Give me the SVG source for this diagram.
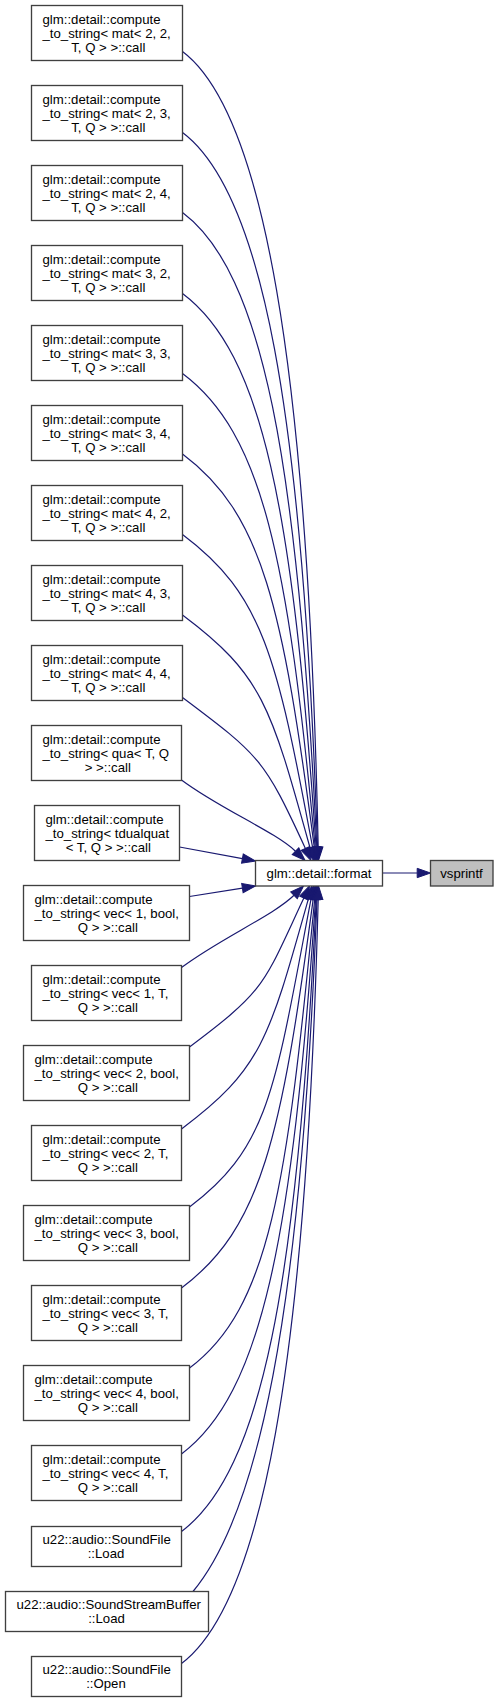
<svg xmlns="http://www.w3.org/2000/svg" width="499" height="1703" viewBox="0 0 499 1703">
<style>
.node rect{fill:#fff;stroke:#404040;stroke-width:1.33}
.node.cur rect{fill:#bfbfbf}
.node text{font-family:"Liberation Sans",Arial,sans-serif;font-size:13.2px;fill:#000}
.l{text-anchor:start}
.c{text-anchor:middle}
.edge path{fill:none;stroke:#191970;stroke-width:1.2;marker-end:url(#ah)}
</style>
<defs>
<marker id="ah" markerUnits="userSpaceOnUse" markerWidth="15" markerHeight="11" refX="0" refY="4.67" orient="auto" overflow="visible">
<path d="M0,0 L13.3,4.67 L0,9.34 Z" fill="#191970" stroke="#191970" stroke-width="1"/>
</marker>
</defs>
<rect width="499" height="1703" fill="#fff"/>
<g id="edges" class="edge">
<path d="M182.5,51.5 C262.5,111.5 308,361.9 318.2,847.2"/>
<path d="M182.5,132.5 C262.5,192.5 302.7,410.7 317.55,847.2"/>
<path d="M182.5,212.5 C262.5,272.5 297.8,458.9 316.85,847.2"/>
<path d="M182.5,293.5 C262.5,353.5 292.7,507.8 316.1,847.2"/>
<path d="M182.5,373.5 C262.5,433.5 287.6,556.4 315.2,847.3"/>
<path d="M182.5,454 C262.5,514 282.6,605.5 314.3,847.3"/>
<path d="M182.5,534.5 C262.5,594.5 276.8,655.1 312.6,847.4"/>
<path d="M182.5,615 C262.5,675 270.7,705.7 310,847.7"/>
<path d="M182.5,697.5 C260.9,756.3 264.4,759.6 305.4,848.4"/>
<path d="M181.5,780 C220.1,809 275.4,831.7 295.5,851.2"/>
<path d="M179.5,847 L242.4,858.6"/>
<path d="M189.5,896.5 L242.4,888.1"/>
<path d="M181.5,967.5 C220.6,938.2 273.7,915.3 294,895.3"/>
<path d="M189.5,1047 C266.8,989 262.8,985.5 303.85,898"/>
<path d="M181.5,1129 C261.5,1069 269.1,1039.2 308.4,898.8"/>
<path d="M189.5,1207 C269.5,1147 275,1088.3 311,899.1"/>
<path d="M181.5,1288 C261.5,1228 281.2,1138.3 313.2,899.2"/>
<path d="M189.5,1368 C269.5,1308 286.9,1187.1 314.7,899.2"/>
<path d="M181.5,1454 C261.5,1394 292.3,1239.3 315.6,899.3"/>
<path d="M181.5,1531.5 C261.5,1471.5 297.2,1286.1 316.3,899.3"/>
<path d="M193,1591.5 C257,1514.5 301.1,1322.3 317,899.3"/>
<path d="M181.5,1663.5 C261.5,1603.5 306.2,1365.7 318.2,899.3"/>
<path d="M382.5,873 L417.2,873"/>
</g>
<g id="n0" class="node"><rect x="31.5" y="5.5" width="151" height="55"/><text class="l" x="42.5" y="24.1">glm::detail::compute</text><text class="l" x="42.5" y="37.8">_to_string&lt; mat&lt; 2, 2,</text><text class="c" x="108.3" y="51.5">T, Q &gt; &gt;::call</text></g>
<g id="n1" class="node"><rect x="31.5" y="85.5" width="151" height="55"/><text class="l" x="42.5" y="104.1">glm::detail::compute</text><text class="l" x="42.5" y="117.8">_to_string&lt; mat&lt; 2, 3,</text><text class="c" x="108.3" y="131.5">T, Q &gt; &gt;::call</text></g>
<g id="n2" class="node"><rect x="31.5" y="165.5" width="151" height="55"/><text class="l" x="42.5" y="184.1">glm::detail::compute</text><text class="l" x="42.5" y="197.8">_to_string&lt; mat&lt; 2, 4,</text><text class="c" x="108.3" y="211.5">T, Q &gt; &gt;::call</text></g>
<g id="n3" class="node"><rect x="31.5" y="245.5" width="151" height="55"/><text class="l" x="42.5" y="264.1">glm::detail::compute</text><text class="l" x="42.5" y="277.8">_to_string&lt; mat&lt; 3, 2,</text><text class="c" x="108.3" y="291.5">T, Q &gt; &gt;::call</text></g>
<g id="n4" class="node"><rect x="31.5" y="325.5" width="151" height="55"/><text class="l" x="42.5" y="344.1">glm::detail::compute</text><text class="l" x="42.5" y="357.8">_to_string&lt; mat&lt; 3, 3,</text><text class="c" x="108.3" y="371.5">T, Q &gt; &gt;::call</text></g>
<g id="n5" class="node"><rect x="31.5" y="405.5" width="151" height="55"/><text class="l" x="42.5" y="424.1">glm::detail::compute</text><text class="l" x="42.5" y="437.8">_to_string&lt; mat&lt; 3, 4,</text><text class="c" x="108.3" y="451.5">T, Q &gt; &gt;::call</text></g>
<g id="n6" class="node"><rect x="31.5" y="485.5" width="151" height="55"/><text class="l" x="42.5" y="504.1">glm::detail::compute</text><text class="l" x="42.5" y="517.8">_to_string&lt; mat&lt; 4, 2,</text><text class="c" x="108.3" y="531.5">T, Q &gt; &gt;::call</text></g>
<g id="n7" class="node"><rect x="31.5" y="565.5" width="151" height="55"/><text class="l" x="42.5" y="584.1">glm::detail::compute</text><text class="l" x="42.5" y="597.8">_to_string&lt; mat&lt; 4, 3,</text><text class="c" x="108.3" y="611.5">T, Q &gt; &gt;::call</text></g>
<g id="n8" class="node"><rect x="31.5" y="645.5" width="151" height="55"/><text class="l" x="42.5" y="664.1">glm::detail::compute</text><text class="l" x="42.5" y="677.8">_to_string&lt; mat&lt; 4, 4,</text><text class="c" x="108.3" y="691.5">T, Q &gt; &gt;::call</text></g>
<g id="n9" class="node"><rect x="31.5" y="725.5" width="150" height="55"/><text class="l" x="42.5" y="744.1">glm::detail::compute</text><text class="l" x="42.5" y="757.8">_to_string&lt; qua&lt; T, Q</text><text class="c" x="107.8" y="771.5">&gt; &gt;::call</text></g>
<g id="n10" class="node"><rect x="34.5" y="805.5" width="145" height="55"/><text class="l" x="45.5" y="824.1">glm::detail::compute</text><text class="l" x="45.5" y="837.8">_to_string&lt; tdualquat</text><text class="c" x="108.3" y="851.5">&lt; T, Q &gt; &gt;::call</text></g>
<g id="n11" class="node"><rect x="23.5" y="885.5" width="166" height="55"/><text class="l" x="34.5" y="904.1">glm::detail::compute</text><text class="l" x="34.5" y="917.8">_to_string&lt; vec&lt; 1, bool,</text><text class="c" x="107.8" y="931.5">Q &gt; &gt;::call</text></g>
<g id="n12" class="node"><rect x="31.5" y="965.5" width="150" height="55"/><text class="l" x="42.5" y="984.1">glm::detail::compute</text><text class="l" x="42.5" y="997.8">_to_string&lt; vec&lt; 1, T,</text><text class="c" x="107.8" y="1011.5">Q &gt; &gt;::call</text></g>
<g id="n13" class="node"><rect x="23.5" y="1045.5" width="166" height="55"/><text class="l" x="34.5" y="1064.1">glm::detail::compute</text><text class="l" x="34.5" y="1077.8">_to_string&lt; vec&lt; 2, bool,</text><text class="c" x="107.8" y="1091.5">Q &gt; &gt;::call</text></g>
<g id="n14" class="node"><rect x="31.5" y="1125.5" width="150" height="55"/><text class="l" x="42.5" y="1144.1">glm::detail::compute</text><text class="l" x="42.5" y="1157.8">_to_string&lt; vec&lt; 2, T,</text><text class="c" x="107.8" y="1171.5">Q &gt; &gt;::call</text></g>
<g id="n15" class="node"><rect x="23.5" y="1205.5" width="166" height="55"/><text class="l" x="34.5" y="1224.1">glm::detail::compute</text><text class="l" x="34.5" y="1237.8">_to_string&lt; vec&lt; 3, bool,</text><text class="c" x="107.8" y="1251.5">Q &gt; &gt;::call</text></g>
<g id="n16" class="node"><rect x="31.5" y="1285.5" width="150" height="55"/><text class="l" x="42.5" y="1304.1">glm::detail::compute</text><text class="l" x="42.5" y="1317.8">_to_string&lt; vec&lt; 3, T,</text><text class="c" x="107.8" y="1331.5">Q &gt; &gt;::call</text></g>
<g id="n17" class="node"><rect x="23.5" y="1365.5" width="166" height="55"/><text class="l" x="34.5" y="1384.1">glm::detail::compute</text><text class="l" x="34.5" y="1397.8">_to_string&lt; vec&lt; 4, bool,</text><text class="c" x="107.8" y="1411.5">Q &gt; &gt;::call</text></g>
<g id="n18" class="node"><rect x="31.5" y="1445.5" width="150" height="55"/><text class="l" x="42.5" y="1464.1">glm::detail::compute</text><text class="l" x="42.5" y="1477.8">_to_string&lt; vec&lt; 4, T,</text><text class="c" x="107.8" y="1491.5">Q &gt; &gt;::call</text></g>
<g id="n19" class="node"><rect x="31.5" y="1526.5" width="150" height="40"/><text class="l" x="42.5" y="1544.1">u22::audio::SoundFile</text><text class="c" x="106" y="1557.8">::Load</text></g>
<g id="n20" class="node"><rect x="5.5" y="1591.5" width="203" height="40"/><text class="l" x="16.5" y="1609.1">u22::audio::SoundStreamBuffer</text><text class="c" x="106.5" y="1622.8">::Load</text></g>
<g id="n21" class="node"><rect x="31.5" y="1656.5" width="150" height="40"/><text class="l" x="42.5" y="1674.1">u22::audio::SoundFile</text><text class="c" x="106" y="1687.8">::Open</text></g>
<g id="format" class="node"><rect x="255.5" y="860.5" width="127" height="25.5"/><text class="c" x="319" y="877.5">glm::detail::format</text></g>
<g id="vsprintf" class="node cur"><rect x="430.5" y="860.5" width="62.5" height="25.5"/><text class="c" x="461.5" y="877.5">vsprintf</text></g>
</svg>
